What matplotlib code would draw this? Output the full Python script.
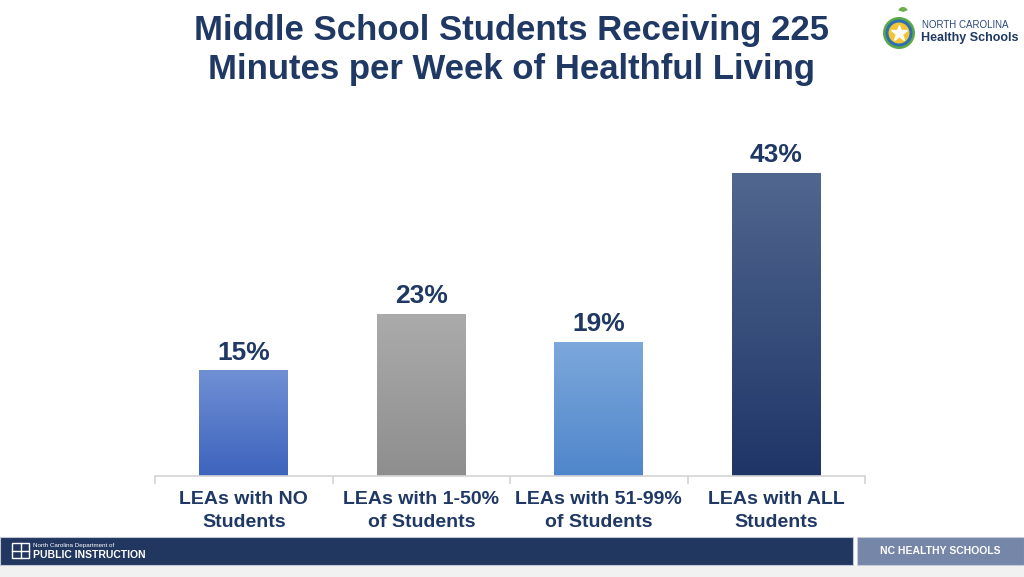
import numpy as np
import matplotlib
matplotlib.use('Agg')
import matplotlib.pyplot as plt
from matplotlib.patches import Rectangle, Circle, Wedge
from matplotlib.colors import LinearSegmentedColormap

categories = ['LEAs with NO\nStudents', 'LEAs with 1-50%\nof Students',
              'LEAs with 51-99%\nof Students', 'LEAs with ALL\nStudents']
values = [15, 23, 19, 43]
# (top colour, bottom colour) of each bar's gradient
bar_colors = [('#7090d4', '#3d63bd'), ('#ababab', '#8e8e8e'),
              ('#7ca8db', '#4f86cb'), ('#51678f', '#1f3567')]

navy = '#1f3864'
plt.rcParams['font.family'] = ['Liberation Sans', 'DejaVu Sans']

W, H = 1024, 577
fig = plt.figure(figsize=(W / 100, H / 100), dpi=100)
fig.patch.set_facecolor('white')

# main bar axes, placed in pixel terms
left, right, base = 155, 865, 476
ymax = 50
ppu = 7.05
ax = fig.add_axes([left / W, (H - base) / H, (right - left) / W, ymax * ppu / H])
x = np.arange(len(values))
bars = ax.bar(x, values, width=0.5, color='none', edgecolor='none', zorder=2)
for b, (ctop, cbot), v in zip(bars, bar_colors, values):
    cmap = LinearSegmentedColormap.from_list('g', [cbot, ctop])
    grad = np.linspace(0, 1, 256).reshape(-1, 1)
    im = ax.imshow(grad, cmap=cmap, origin='lower', aspect='auto',
                   extent=[b.get_x(), b.get_x() + b.get_width(), 0, v], zorder=2)
    im.set_clip_path(b)
    ax.text(b.get_x() + b.get_width() / 2, v + 0.8, f'{v}%', ha='center', va='bottom',
            fontsize=19, fontweight='bold', color=navy)

ax.set_xlim(-0.5, len(values) - 0.5)
ax.set_ylim(0, ymax)
for s in ['top', 'right', 'left']:
    ax.spines[s].set_visible(False)
ax.spines['bottom'].set_color('#d4d4d4')
ax.spines['bottom'].set_linewidth(1.2)
ax.set_yticks([])
ax.set_xticks(np.arange(-0.5, len(values)), labels=[''] * (len(values) + 1))
ax.tick_params(axis='x', which='major', length=6, color='#d4d4d4', width=1.2)
ax.set_xticks(x, minor=True)
ax.set_xticklabels(categories, minor=True, fontsize=14, fontweight='bold',
                   color=navy, linespacing=1.45)
ax.tick_params(axis='x', which='minor', length=0, pad=11)

fig.text(0.5, 1 - 50 / H, 'Middle School Students Receiving 225\nMinutes per Week of Healthful Living',
         ha='center', va='center', fontsize=25, fontweight='bold', color=navy, linespacing=1.25)

# overlay axes in pixel coordinates for logo and footer
ov = fig.add_axes([0, 0, 1, 1], zorder=5)
ov.set_xlim(0, W)
ov.set_ylim(H, 0)
ov.axis('off')
cx, cy = 899, 33
ov.add_patch(Circle((cx, cy), 16, fc='#5aa845', ec='none'))
ov.add_patch(Circle((cx, cy), 13.5, fc='#2d6fb2', ec='none'))
ov.add_patch(Circle((cx, cy), 10.5, fc='#f3c433', ec='none'))
ov.plot(cx, cy, marker='*', ms=12, color='white', mec='white')
ov.add_patch(Wedge((cx + 4, 12), 5, 200, 340, fc='#6ab04c', ec='none'))
ov.text(922, 25, 'NORTH CAROLINA', fontsize=7, color='#2b4a7a', va='center')
ov.text(921, 38, 'Healthy Schools', fontsize=9, fontweight='bold', color=navy, va='center')

# footer
ov.add_patch(Rectangle((0, 537), 853, 28, fc='#22375f', ec='#bfc6d4', lw=0.8))
ov.add_patch(Rectangle((857, 537), 167, 28, fc='#7686a8', ec='#c5cbd8', lw=0.8))
ov.add_patch(Rectangle((0, 566), W, 11, fc='#f1f1f1', ec='none'))
ov.text(940, 551.5, 'NC HEALTHY SCHOOLS', fontsize=7.5, fontweight='bold', color='white',
        ha='center', va='center')
ov.add_patch(Rectangle((12, 543), 17, 15, fc='none', ec='white', lw=1))
ov.plot([20.5, 20.5], [543, 558], color='white', lw=1)
ov.plot([12, 29], [550.5, 550.5], color='white', lw=1)
ov.text(33, 546, 'North Carolina Department of', fontsize=4.5, color='white', va='center')
ov.text(33, 555, 'PUBLIC INSTRUCTION', fontsize=7.5, fontweight='bold', color='white',
        va='center')

fig.savefig('out.png', dpi=100, facecolor='white')
